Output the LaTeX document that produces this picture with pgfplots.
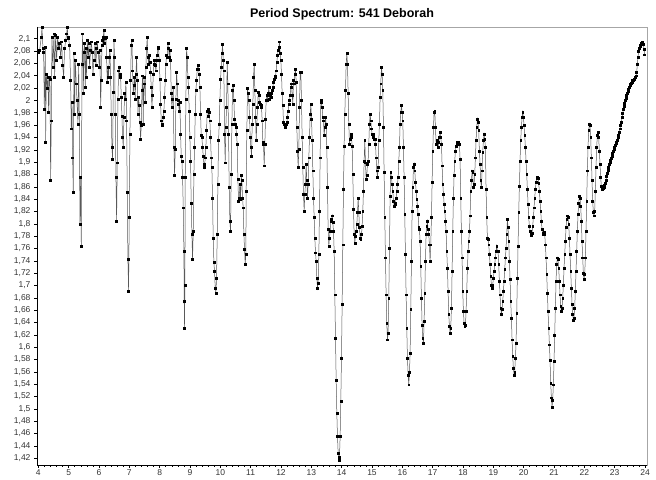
\documentclass[border=0pt]{standalone}
\usepackage{fontspec}
\setmainfont{Liberation Sans}
\usepackage{pgfplots}
\pgfplotsset{compat=1.18}

\begin{document}
\begin{tikzpicture}
\begin{axis}[
  at={(0pt,0pt)}, anchor=south west,
  scale only axis, width=610pt, height=438pt,
  xmin=3.957, xmax=24.066, ymin=1.409, ymax=2.119,
  xtick={4,5,...,24}, minor x tick num=4,
  ytick={1.42,1.44,1.46,1.48,1.50,1.52,1.54,1.56,1.58,1.60,1.62,1.64,1.66,1.68,1.70,1.72,1.74,1.76,1.78,1.80,1.82,1.84,1.86,1.88,1.90,1.92,1.94,1.96,1.98,2.00,2.02,2.04,2.06,2.08,2.10},
  tick align=outside, tick pos=left,
  major tick length=3pt, minor tick length=2pt,
  tick style={black, line width=0.5pt},
  axis line style={gray!70, line width=0.6pt},
  /pgf/number format/use comma, /pgf/number format/fixed,
  /pgf/number format/precision=2, /pgf/number format/assume math mode=true,
  ticklabel style={font=\fontsize{8.5}{9}\selectfont, text=black!80},
  xticklabel style={yshift=1.5pt},
  title={Period Spectrum: 541 Deborah},
  title style={font=\bfseries\fontsize{12.5}{14}\selectfont, yshift=-3pt},
  clip=false,
]
% left and bottom axis lines are darker in the original
\draw[black, line width=0.8pt] (rel axis cs:0,1) -- (rel axis cs:0,0) -- (rel axis cs:1,0);

\addplot[black!65, line width=0.5pt, mark=square*, mark size=0.95pt,
  mark options={black, fill=black}] coordinates {
(3.989,2.078)(4.044,2.081)(4.099,2.103)(4.121,2.118)(4.154,2.084)(4.176,2.078)(4.198,1.986)(4.231,2.086)(4.242,1.932)(4.263,2.043)
(4.296,2.019)(4.318,2.038)(4.340,1.981)(4.362,2.038)(4.384,2.035)(4.406,1.870)(4.428,1.967)(4.450,2.103)(4.483,2.054)(4.516,2.108)
(4.538,2.038)(4.571,2.105)(4.604,2.065)(4.637,2.103)(4.670,2.084)(4.703,2.092)(4.736,2.070)(4.769,2.095)(4.802,2.057)(4.835,2.038)
(4.868,2.084)(4.901,2.097)(4.933,2.108)(4.955,2.119)(4.977,2.103)(4.999,2.100)(5.032,2.089)(5.065,2.032)(5.087,1.954)(5.109,1.997)
(5.131,1.907)(5.153,1.851)(5.175,2.076)(5.197,1.978)(5.219,2.065)(5.252,2.027)(5.274,2.000)(5.307,1.962)(5.329,2.059)(5.351,1.978)
(5.373,1.799)(5.395,1.875)(5.417,1.764)(5.439,2.059)(5.461,2.108)(5.483,2.011)(5.505,2.078)(5.527,2.092)(5.549,2.021)(5.571,2.084)
(5.592,2.038)(5.614,2.097)(5.647,2.070)(5.669,2.092)(5.691,2.054)(5.724,2.081)(5.746,2.095)(5.779,2.078)(5.801,2.043)(5.834,2.065)
(5.867,2.092)(5.900,2.057)(5.922,2.084)(5.944,2.095)(5.977,2.078)(6.010,2.054)(6.032,2.081)(6.054,1.989)(6.076,2.032)(6.098,2.089)
(6.120,2.097)(6.142,2.103)(6.164,2.114)(6.186,2.092)(6.207,2.100)(6.229,2.103)(6.251,2.070)(6.273,2.030)(6.295,2.054)(6.317,2.038)
(6.339,2.070)(6.361,2.081)(6.383,2.038)(6.405,1.978)(6.427,1.924)(6.449,1.905)(6.471,2.013)(6.493,2.097)(6.515,2.070)(6.537,1.978)
(6.559,1.875)(6.581,1.804)(6.603,1.899)(6.625,2.002)(6.647,2.048)(6.669,2.054)(6.691,2.043)(6.713,2.038)(6.735,2.005)(6.757,1.975)
(6.779,1.940)(6.801,1.924)(6.823,1.973)(6.844,2.011)(6.866,2.002)(6.888,2.030)(6.910,1.967)(6.932,1.851)(6.954,1.742)(6.976,1.691)
(6.998,1.810)(7.020,1.945)(7.042,2.032)(7.064,2.089)(7.086,2.097)(7.108,2.048)(7.130,2.011)(7.152,2.024)(7.174,2.038)(7.196,2.002)
(7.218,2.043)(7.240,2.070)(7.262,2.032)(7.284,1.978)(7.306,2.005)(7.328,1.992)(7.350,1.964)(7.372,1.937)(7.394,1.959)(7.416,2.016)
(7.438,2.040)(7.460,1.962)(7.481,2.038)(7.503,2.027)(7.525,1.997)(7.547,2.054)(7.569,2.084)(7.591,2.103)(7.613,2.070)(7.635,2.059)
(7.657,2.073)(7.679,2.062)(7.701,2.046)(7.723,2.021)(7.745,1.989)(7.767,2.008)(7.789,2.043)(7.811,2.059)(7.833,2.065)(7.855,2.057)
(7.877,2.048)(7.899,2.065)(7.921,2.073)(7.943,2.086)(7.965,2.084)(7.987,2.065)(8.009,2.035)(8.031,1.994)(8.053,1.967)(8.075,1.962)
(8.097,1.959)(8.118,1.973)(8.140,1.983)(8.162,2.005)(8.184,2.032)(8.206,2.059)(8.228,2.073)(8.250,2.070)(8.272,2.092)(8.294,2.084)
(8.316,2.070)(8.338,2.081)(8.360,2.065)(8.382,2.011)(8.404,1.989)(8.426,2.002)(8.448,2.021)(8.470,1.924)(8.492,1.878)(8.514,1.921)
(8.536,2.002)(8.558,2.046)(8.580,2.027)(8.602,2.000)(8.624,1.994)(8.646,1.983)(8.668,1.997)(8.690,1.945)(8.712,1.910)(8.734,1.902)
(8.756,1.875)(8.778,1.826)(8.799,1.756)(8.810,1.674)(8.821,1.631)(8.832,1.701)(8.843,1.875)(8.865,2.002)(8.887,2.084)(8.909,2.070)
(8.931,2.038)(8.953,2.021)(8.975,1.983)(8.997,1.940)(9.019,1.902)(9.041,1.834)(9.063,1.783)(9.085,1.742)(9.107,1.788)(9.129,1.880)
(9.151,1.924)(9.173,1.978)(9.195,2.016)(9.217,2.032)(9.239,2.051)(9.261,2.057)(9.283,2.051)(9.305,2.043)(9.327,2.021)(9.349,1.978)
(9.371,1.943)(9.393,1.940)(9.415,1.924)(9.437,1.910)(9.459,1.897)(9.480,1.891)(9.502,1.907)(9.524,1.924)(9.546,1.951)(9.568,1.983)
(9.590,1.986)(9.612,1.975)(9.634,1.981)(9.656,1.967)(9.678,1.940)(9.700,1.907)(9.722,1.891)(9.744,1.842)(9.766,1.777)(9.788,1.737)
(9.810,1.723)(9.832,1.696)(9.854,1.688)(9.876,1.712)(9.898,1.783)(9.920,1.864)(9.942,1.935)(9.964,1.962)(9.986,2.000)(10.008,2.035)
(10.030,2.054)(10.052,2.076)(10.074,2.091)(10.096,2.065)(10.117,2.048)(10.139,1.945)(10.161,1.899)(10.183,1.956)(10.205,1.989)(10.227,2.062)
(10.249,2.027)(10.271,1.945)(10.293,1.859)(10.315,1.804)(10.337,1.788)(10.359,1.880)(10.381,1.962)(10.403,2.016)(10.425,2.024)(10.447,2.000)
(10.469,1.970)(10.491,1.962)(10.513,1.956)(10.535,1.945)(10.557,1.929)(10.579,1.872)(10.601,1.837)(10.623,1.842)(10.645,1.864)(10.667,1.840)
(10.689,1.878)(10.711,1.870)(10.733,1.842)(10.755,1.826)(10.777,1.783)(10.799,1.758)(10.820,1.734)(10.842,1.750)
(10.853,1.853)(10.875,1.951)(10.897,2.019)(10.919,2.011)(10.941,2.000)(10.963,1.973)(10.985,1.940)(11.007,1.924)(11.029,1.910)(11.051,1.962)
(11.073,1.994)(11.095,2.038)(11.117,2.059)(11.139,2.016)(11.161,1.973)(11.183,1.935)(11.205,1.962)(11.227,1.989)(11.249,2.013)(11.271,2.008)
(11.292,1.997)(11.314,1.994)(11.336,1.992)(11.358,1.989)(11.380,1.967)(11.402,1.932)(11.424,1.929)(11.446,1.894)(11.468,1.929)(11.490,1.970)
(11.512,2.000)(11.534,2.008)(11.556,2.000)(11.578,2.011)(11.600,2.021)(11.622,2.002)(11.644,2.008)(11.666,2.005)(11.688,2.011)(11.710,2.016)
(11.732,2.021)(11.754,2.030)(11.776,2.035)(11.798,2.038)(11.820,2.040)(11.842,2.048)(11.864,2.062)(11.886,2.073)(11.908,2.081)(11.930,2.086)
(11.951,2.095)(11.973,2.076)(11.995,2.065)(12.017,2.043)(12.039,2.011)(12.061,1.992)(12.083,1.964)(12.105,1.962)(12.127,1.959)(12.149,1.956)
(12.171,1.962)(12.193,1.964)(12.215,1.973)(12.237,1.983)(12.259,1.994)(12.281,2.000)(12.303,2.008)(12.325,2.021)(12.347,2.027)(12.369,2.008)
(12.391,1.994)(12.413,2.032)(12.435,2.027)(12.457,2.043)(12.479,2.051)(12.501,2.030)(12.523,1.956)(12.545,1.918)(12.567,1.891)(12.589,1.921)
(12.610,1.989)(12.632,2.046)(12.654,2.046)(12.676,2.000)(12.698,1.940)(12.720,1.891)(12.742,1.848)(12.764,1.821)(12.786,1.848)(12.808,1.864)
(12.830,1.897)(12.852,1.870)(12.874,1.842)(12.896,1.864)(12.918,1.907)(12.940,1.940)(12.962,1.978)(12.984,1.994)(13.006,1.970)(13.028,1.935)
(13.050,1.886)(13.072,1.842)(13.094,1.810)(13.116,1.777)(13.138,1.753)(13.160,1.739)(13.182,1.712)(13.204,1.696)(13.226,1.704)(13.248,1.750)
(13.269,1.821)(13.291,1.907)(13.313,2.000)(13.335,1.997)(13.357,1.989)(13.379,1.973)(13.401,1.967)(13.423,1.943)(13.445,1.956)(13.467,1.973)
(13.489,1.962)(13.511,1.924)(13.533,1.859)(13.555,1.791)(13.577,1.764)(13.599,1.777)(13.621,1.788)(13.643,1.804)(13.665,1.807)(13.687,1.813)
(13.709,1.802)(13.731,1.788)(13.753,1.756)(13.775,1.685)(13.797,1.615)(13.819,1.547)(13.841,1.493)(13.863,1.455)(13.885,1.428)(13.907,1.417)
(13.928,1.422)(13.950,1.455)(13.972,1.512)(13.994,1.582)(14.016,1.669)(14.038,1.766)(14.060,1.856)(14.082,1.926)(14.104,1.978)(14.126,2.016)
(14.148,2.059)(14.170,2.076)(14.192,2.059)(14.214,2.011)(14.236,1.962)(14.258,1.929)(14.280,1.937)(14.302,1.945)(14.324,1.940)(14.346,1.926)
(14.368,1.880)(14.390,1.823)(14.412,1.783)(14.434,1.769)(14.456,1.780)(14.478,1.788)(14.500,1.799)(14.522,1.818)(14.544,1.842)(14.566,1.818)
(14.587,1.794)(14.609,1.777)(14.631,1.775)(14.653,1.783)(14.675,1.796)(14.697,1.821)(14.719,1.853)(14.741,1.902)(14.763,1.935)(14.785,1.899)
(14.807,1.872)(14.829,1.878)(14.851,1.897)(14.873,1.902)(14.895,1.929)(14.917,1.962)(14.939,1.978)(14.961,1.967)(14.983,1.954)(15.005,1.945)
(15.027,1.940)(15.049,1.945)(15.071,1.937)(15.093,1.937)(15.115,1.929)(15.137,1.907)(15.159,1.886)(15.181,1.875)(15.203,1.891)(15.225,1.935)
(15.246,1.962)(15.268,2.005)(15.290,2.027)(15.312,2.054)(15.334,2.043)(15.356,2.016)(15.378,1.956)(15.400,1.883)(15.422,1.810)(15.444,1.745)
(15.466,1.685)(15.488,1.639)(15.510,1.612)(15.532,1.623)(15.554,1.680)(15.576,1.761)(15.598,1.845)(15.620,1.883)(15.642,1.875)(15.664,1.864)
(15.686,1.853)(15.708,1.837)(15.730,1.829)(15.752,1.832)(15.774,1.834)(15.796,1.842)(15.818,1.853)(15.840,1.864)(15.862,1.875)(15.884,1.902)
(15.905,1.924)(15.927,1.962)(15.949,1.981)(15.971,1.992)(15.993,1.981)(16.015,1.967)(16.037,1.924)(16.059,1.875)(16.081,1.815)(16.103,1.750)
(16.125,1.685)(16.147,1.631)(16.169,1.582)(16.191,1.555)(16.213,1.539)(16.235,1.560)(16.257,1.590)(16.279,1.661)(16.301,1.739)(16.323,1.821)
(16.345,1.859)(16.367,1.891)(16.389,1.897)(16.411,1.886)(16.433,1.867)(16.455,1.853)(16.477,1.840)(16.499,1.829)(16.521,1.815)(16.543,1.794)
(16.564,1.791)(16.586,1.772)(16.608,1.731)(16.630,1.680)(16.652,1.636)(16.674,1.615)(16.696,1.606)(16.718,1.642)(16.740,1.688)(16.762,1.739)
(16.784,1.783)(16.806,1.796)(16.828,1.804)(16.850,1.791)(16.872,1.783)(16.894,1.766)(16.916,1.739)(16.938,1.766)(16.960,1.810)(16.982,1.867)
(17.004,1.918)(17.026,1.956)(17.048,1.981)(17.070,1.983)(17.092,1.956)(17.114,1.929)(17.136,1.932)(17.158,1.935)(17.180,1.924)(17.202,1.932)
(17.224,1.940)(17.246,1.948)(17.268,1.940)(17.290,1.929)(17.312,1.894)(17.334,1.864)(17.356,1.848)(17.378,1.832)(17.400,1.821)(17.422,1.804)
(17.443,1.788)(17.465,1.756)(17.487,1.728)(17.509,1.691)(17.531,1.653)(17.553,1.634)(17.575,1.623)(17.597,1.631)(17.619,1.663)(17.641,1.723)
(17.662,1.788)(17.684,1.842)(17.706,1.878)(17.728,1.902)(17.750,1.918)(17.772,1.926)(17.794,1.930)(17.816,1.932)(17.838,1.930)(17.860,1.932)
(17.882,1.929)(17.904,1.905)(17.926,1.842)(17.948,1.788)(17.970,1.745)(17.992,1.691)(18.014,1.658)(18.036,1.639)(18.058,1.634)(18.080,1.636)
(18.102,1.658)(18.124,1.691)(18.146,1.728)(18.168,1.756)(18.190,1.772)(18.212,1.788)(18.234,1.813)(18.256,1.853)(18.278,1.870)(18.300,1.886)
(18.321,1.883)(18.343,1.859)(18.365,1.864)(18.387,1.880)(18.409,1.907)(18.431,1.935)(18.453,1.956)(18.475,1.970)(18.497,1.964)(18.519,1.951)
(18.541,1.918)(18.563,1.897)(18.585,1.870)(18.607,1.859)(18.629,1.886)(18.651,1.916)(18.673,1.935)(18.695,1.945)(18.717,1.937)(18.739,1.924)
(18.761,1.856)(18.783,1.810)(18.805,1.777)(18.827,1.775)(18.849,1.766)(18.871,1.750)(18.893,1.734)(18.915,1.715)(18.937,1.701)(18.959,1.696)
(18.980,1.701)(19.002,1.712)(19.024,1.723)(19.046,1.734)(19.068,1.745)(19.090,1.756)(19.112,1.764)(19.134,1.756)(19.156,1.756)(19.178,1.734)
(19.200,1.707)(19.222,1.685)(19.244,1.663)(19.266,1.653)(19.288,1.661)(19.310,1.674)(19.332,1.691)(19.354,1.707)(19.376,1.726)(19.398,1.745)
(19.420,1.761)(19.442,1.783)(19.464,1.807)(19.486,1.794)(19.508,1.772)(19.530,1.739)(19.552,1.710)(19.574,1.674)(19.596,1.647)(19.618,1.612)
(19.639,1.585)(19.661,1.566)(19.683,1.555)(19.705,1.560)(19.727,1.582)(19.749,1.606)(19.771,1.655)(19.793,1.712)(19.815,1.764)(19.837,1.818)
(19.859,1.861)(19.881,1.902)(19.903,1.935)(19.925,1.956)(19.947,1.973)(19.969,1.981)(19.991,1.973)(20.013,1.959)(20.035,1.943)(20.057,1.924)
(20.079,1.902)(20.101,1.880)(20.123,1.856)(20.145,1.832)(20.167,1.810)(20.189,1.796)(20.211,1.788)(20.233,1.783)(20.255,1.782)(20.277,1.785)
(20.298,1.796)(20.320,1.810)(20.342,1.826)(20.364,1.842)(20.386,1.856)(20.408,1.867)(20.430,1.874)(20.452,1.876)(20.474,1.874)(20.496,1.865)
(20.518,1.853)(20.540,1.837)(20.562,1.821)(20.584,1.804)(20.606,1.791)(20.628,1.784)(20.650,1.783)(20.672,1.787)(20.694,1.783)(20.716,1.766)
(20.738,1.745)(20.760,1.718)(20.782,1.688)(20.804,1.658)(20.826,1.631)(20.848,1.604)(20.870,1.579)(20.892,1.542)(20.914,1.518)(20.936,1.503)
(20.957,1.514)(20.979,1.539)(21.001,1.577)(21.023,1.620)(21.045,1.663)(21.067,1.707)(21.089,1.734)(21.111,1.745)(21.133,1.742)(21.155,1.728)
(21.177,1.707)(21.199,1.685)(21.221,1.666)(21.243,1.658)(21.265,1.663)(21.287,1.680)(21.309,1.701)(21.331,1.728)(21.353,1.750)(21.375,1.772)
(21.397,1.794)(21.419,1.807)(21.441,1.813)(21.463,1.810)(21.485,1.799)(21.507,1.777)(21.529,1.750)(21.551,1.723)(21.573,1.696)(21.595,1.669)
(21.616,1.653)(21.638,1.644)(21.660,1.647)(21.682,1.663)(21.704,1.691)(21.726,1.723)(21.748,1.756)(21.770,1.788)(21.792,1.815)(21.814,1.834)
(21.836,1.845)(21.858,1.842)(21.880,1.829)(21.902,1.804)(21.924,1.772)(21.946,1.745)(21.968,1.720)(21.990,1.710)(22.012,1.718)(22.034,1.745)
(22.056,1.788)(22.078,1.837)(22.100,1.886)(22.122,1.924)(22.144,1.951)(22.166,1.962)(22.188,1.959)(22.210,1.940)(22.232,1.907)(22.254,1.870)
(22.275,1.837)(22.297,1.818)(22.319,1.813)(22.341,1.821)(22.363,1.853)(22.385,1.891)(22.407,1.924)(22.429,1.943)(22.451,1.948)(22.473,1.940)
(22.495,1.918)(22.517,1.897)(22.539,1.875)(22.561,1.861)(22.583,1.856)(22.605,1.858)(22.627,1.857)(22.649,1.859)(22.671,1.862)(22.693,1.866)
(22.715,1.871)(22.737,1.877)(22.759,1.882)(22.781,1.887)(22.803,1.891)(22.825,1.896)(22.846,1.900)(22.868,1.903)(22.890,1.906)(22.912,1.910)
(22.934,1.914)(22.956,1.917)(22.978,1.921)(23.000,1.924)(23.022,1.927)(23.044,1.930)(23.066,1.933)(23.088,1.936)(23.110,1.940)(23.132,1.944)
(23.154,1.949)(23.176,1.954)(23.198,1.959)(23.220,1.965)(23.242,1.972)(23.264,1.979)(23.286,1.985)(23.308,1.990)(23.330,1.995)(23.352,2.000)
(23.374,2.004)(23.396,2.008)(23.418,2.011)(23.440,2.015)(23.461,2.018)(23.483,2.021)(23.505,2.024)(23.527,2.026)(23.549,2.028)(23.571,2.030)
(23.593,2.032)(23.615,2.033)(23.637,2.034)(23.659,2.035)(23.681,2.037)(23.703,2.040)(23.725,2.045)(23.747,2.058)(23.769,2.070)(23.791,2.080)
(23.813,2.085)(23.835,2.088)(23.857,2.090)(23.879,2.092)(23.901,2.094)(23.923,2.095)(23.945,2.091)(23.967,2.083)(23.989,2.074)
};
\end{axis}
% page frame: the same margins as the reference around the plot box
\path (-37pt,-12pt) rectangle (619pt,465pt);
\end{tikzpicture}
\end{document}
